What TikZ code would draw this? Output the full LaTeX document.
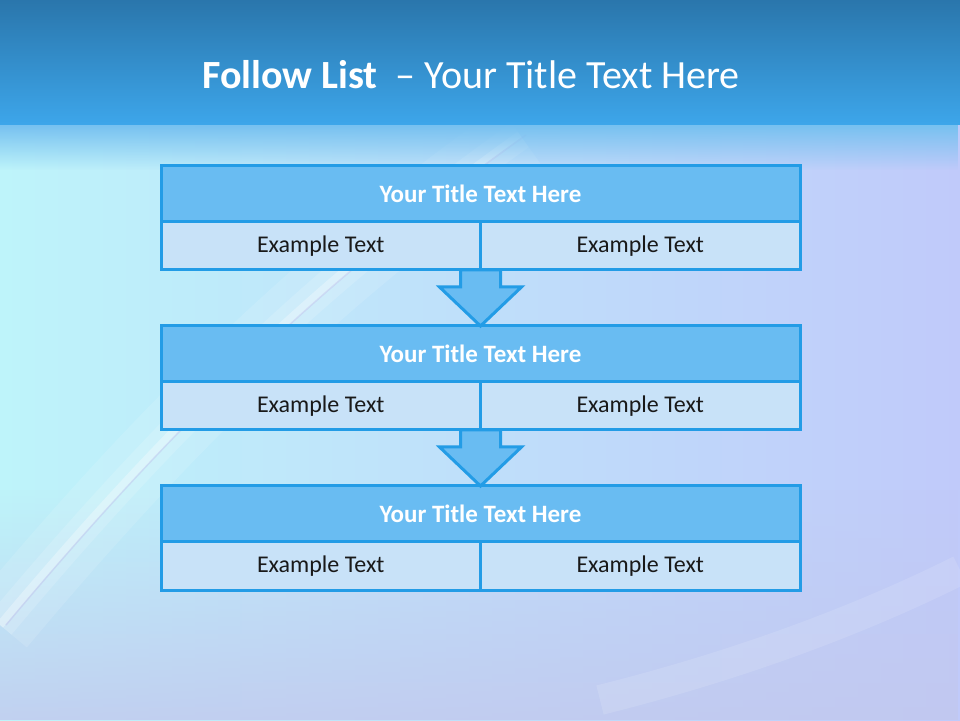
\documentclass[tikz,border=0pt]{standalone}
\usepackage{fontspec}
\setmainfont{Carlito}
\usetikzlibrary{positioning,fadings}

\definecolor{headtop}{HTML}{2A76AC}
\definecolor{headbot}{HTML}{3DA6EA}
\definecolor{boxline}{HTML}{239CE6}
\definecolor{boxhead}{HTML}{69BCF2}
\definecolor{boxbody}{HTML}{C8E2F8}
\definecolor{bgleft}{HTML}{BEF4FA}
\definecolor{bgmid}{HTML}{C4DEF8}
\definecolor{bgright}{HTML}{C0CAFA}
\definecolor{bglow}{HTML}{C2C8EE}
\definecolor{streak}{HTML}{B8B4E8}

\tikzfading[name=fade down, top color=transparent!0, bottom color=transparent!100]
\tikzfading[name=fade up, top color=transparent!100, bottom color=transparent!0]

\begin{document}
\begin{tikzpicture}[x=1pt, y=1pt,
		titlebox/.style={rectangle, draw=boxline, fill=boxhead, line width=3pt,
			minimum width=639pt, minimum height=56pt, inner sep=0pt, outer sep=0pt,
			text=white, font=\fontsize{25}{29}\selectfont\bfseries},
		cellbox/.style={rectangle, draw=boxline, fill=boxbody, line width=3pt,
			minimum width=319.5pt, minimum height=48pt, inner sep=0pt, outer sep=0pt,
			text=black!90, font=\fontsize{24}{28}\selectfont},
		flowarrow/.style={draw=boxline, fill=boxhead, line width=3pt, line join=miter}
		]
	\useasboundingbox (0,0) rectangle (960,720);
	% background
	\begin{scope}
		\clip (0,0) rectangle (960,720);
		\shade[left color=bgleft, middle color=bgmid, right color=bgright] (0,0) rectangle (960,600);
		\fill[bglow, opacity=0.8, path fading=fade up] (0,0) rectangle (960,230);
		\draw[white, opacity=0.12, line width=70pt] (0,95) .. controls (180,310) and (330,450) .. (520,585);
		\draw[white, opacity=0.15, line width=30pt] (0,95) .. controls (180,310) and (330,450) .. (520,585);
		\draw[white, opacity=0.3, line width=8pt] (0,95) .. controls (180,310) and (330,450) .. (520,585);
		\draw[streak, opacity=0.35, line width=1.5pt] (6,95) .. controls (186,310) and (336,450) .. (526,585);
		\draw[white, opacity=0.12, line width=30pt] (600,20) .. controls (760,60) and (880,110) .. (960,150);
		\fill[headbot!70!white, path fading=fade down] (0,550) rectangle (960,595);
		\shade[top color=headtop, bottom color=headbot] (0,595) rectangle (960,720);
	\end{scope}

	\node[text=white, font=\fontsize{40}{44}\selectfont] (head) at (471,645)
		{\textbf{Follow List}\ \ – Your Title Text Here};

	\node[titlebox] (t1) at (480.5,526) {Your Title Text Here};
	\node[cellbox, anchor=north west] (a1) at (t1.south west) {Example Text};
	\node[cellbox, anchor=north east] (b1) at (t1.south east) {Example Text};

	\node[titlebox, below=56pt of a1.south east] (t2) {Your Title Text Here};
	\node[cellbox, anchor=north west] (a2) at (t2.south west) {Example Text};
	\node[cellbox, anchor=north east] (b2) at (t2.south east) {Example Text};

	\node[titlebox, below=56pt of a2.south east] (t3) {Your Title Text Here};
	\node[cellbox, anchor=north west] (a3) at (t3.south west) {Example Text};
	\node[cellbox, anchor=north east] (b3) at (t3.south east) {Example Text};

	% arrows between boxes
	\draw[flowarrow] (a1.south east) ++(-20,0) -- +(0,-17) -- +(-21,-17) -- (t2.north)
		-- +(41,39) -- +(20,39) -- +(20,56) -- cycle;
	\draw[flowarrow] (a2.south east) ++(-20,0) -- +(0,-17) -- +(-21,-17) -- (t3.north)
		-- +(41,39) -- +(20,39) -- +(20,56) -- cycle;
\end{tikzpicture}
\end{document}
